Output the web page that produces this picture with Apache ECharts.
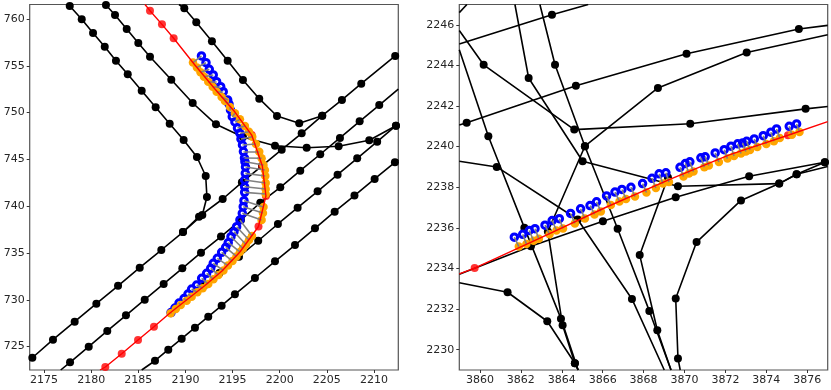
<!DOCTYPE html>
<html>
<head>
<meta charset="utf-8">
<style>
  html, body { margin: 0; padding: 0; background: #fff; }
  #chart { width: 831px; height: 390px; }
</style>
<script src="https://cdn.jsdelivr.net/npm/echarts@6/dist/echarts.min.js"></script>
</head>
<body>
<div id="chart"></div>
<script>
// left panel ticks
const leftXTicks = [2175, 2180, 2185, 2190, 2195, 2200, 2205, 2210];
const leftYTicks = [725, 730, 735, 740, 745, 750, 755, 760];

// left panel black polylines
const leftLineA = [[2177.33,761.55],[2177.73,761.39],[2179.0,759.97],[2180.2,758.5],[2181.44,757.04],[2182.63,755.55],[2183.88,754.09],[2185.36,752.34],[2186.84,750.57],[2188.33,748.82],[2189.81,747.07],[2191.22,745.26],[2192.15,743.23],[2192.28,740.98],[2191.79,739.06],[2189.74,737.24]];
const leftLineB = [[2173.48,723.57],[2173.76,723.81],[2175.95,725.74],[2178.25,727.66],[2180.55,729.58],[2182.85,731.5],[2185.15,733.43],[2187.44,735.32],[2189.74,737.24],[2191.44,738.88],[2193.95,740.77],[2195.99,742.55],[2198.12,744.3],[2200.21,746.04],[2202.33,747.79],[2204.51,749.67],[2206.6,751.35],[2208.65,753.09],[2212.25,756.05],[2212.58,756.3]];
const leftLineC = [[2176.77,722.5],[2177.76,723.32],[2179.74,724.99],[2181.71,726.67],[2183.69,728.34],[2185.68,730.01],[2187.69,731.69],[2189.67,733.36],[2191.65,735.03],[2193.77,736.76],[2195.89,738.53],[2197.94,740.37],[2200.06,742.02],[2202.18,743.79],[2204.3,745.55],[2206.39,747.29],[2208.48,749.07],[2210.56,750.81],[2212.58,752.52]];
const leftLineD = [[2192.07,731.58],[2193.61,732.86],[2195.68,734.6],[2197.72,736.31],[2199.81,738.1],[2201.9,739.84],[2204.02,741.59],[2206.14,743.37],[2208.22,745.12],[2210.34,746.89],[2212.33,748.6],[2212.58,748.78]];
const leftLineE = [[2185.36,722.5],[2186.77,723.49],[2188.18,724.67],[2189.6,725.84],[2191.01,727.02],[2192.42,728.2],[2193.84,729.37],[2195.25,730.59],[2197.37,732.33],[2199.5,734.11],[2201.62,735.85],[2203.74,737.64],[2205.83,739.41],[2207.93,741.14],[2210.07,742.91],[2212.22,744.69],[2212.58,744.94]];
const leftLineF = [[2189.32,761.55],[2189.88,761.14],[2191.15,759.65],[2192.81,757.62],[2194.48,755.55],[2196.1,753.48],[2197.83,751.49],[2199.71,749.64],[2202.07,748.86],[2204.51,749.67]];
const leftLineG = [[2181.57,761.5],[2182.53,760.43],[2183.77,758.93],[2185,757.44],[2186.24,755.97],[2188.5,753.51],[2190.77,751.03],[2193.24,748.75],[2196.1,747.39],[2199.5,746.46],[2202.86,746.25],[2206.25,746.4],[2209.5,747.04],[2212.33,748.6]];

// left panel red path and the red dots that show
const leftRed = [[2180.94,722.5],[2181.5,722.82],[2183.24,724.24],[2184.97,725.71],[2186.66,727.13],[2188.36,728.59],[2192.07,731.53],[2193.88,733.07],[2195.78,735.11],[2197.75,737.83],[2198.54,741.09],[2198.15,744.33],[2197.03,747.6],[2195.25,750.06],[2193.13,752.52],[2191,755.08],[2188.75,757.94],[2187.51,759.43],[2186.24,760.89],[2185.71,761.55]];
const leftRedDots = [[2181.5,722.82],[2183.24,724.24],[2184.97,725.71],[2186.66,727.13],[2197.75,737.83],[2198.54,741.09],[2198.15,744.33],[2197.03,747.6],[2188.75,757.94],[2187.51,759.43],[2186.24,760.89]];

// left panel matched points, same order in both
const leftOrange = [[2190.8,755.35],[2191.22,754.82],[2191.6,754.31],[2191.97,753.84],[2192.42,753.3],[2192.89,752.77],[2193.31,752.23],[2193.84,751.67],[2194.19,751.24],[2194.72,750.6],[2195.25,749.92],[2195.78,749.28],[2196.31,748.57],[2196.74,747.96],[2197.09,747.43],[2197.48,746.64],[2197.83,745.82],[2198.08,745.12],[2198.28,744.4],[2198.43,743.87],[2198.47,743.23],[2198.51,742.48],[2198.51,741.84],[2198.51,741.3],[2198.28,739.91],[2198.22,739.27],[2198.08,738.53],[2197.06,736.82],[2196.74,736.39],[2196.42,735.91],[2196.1,735.48],[2195.78,735.11],[2195.41,734.63],[2194.99,734.14],[2194.51,733.66],[2194.03,733.13],[2193.5,732.65],[2192.97,732.19],[2192.42,731.69],[2191.83,731.23],[2191.26,730.8],[2190.66,730.33],[2190.13,729.9],[2189.5,729.44],[2188.97,729.02],[2188.43,728.56]];
const leftBlue = [[2191.7,756.05],[2192.18,755.33],[2192.53,754.63],[2192.95,754.02],[2193.31,753.3],[2193.74,752.77],[2194.01,752.23],[2194.48,751.35],[2194.62,750.92],[2194.78,750.28],[2194.97,749.56],[2195.25,749.0],[2195.52,748.35],[2195.78,747.79],[2195.89,747.18],[2196.05,746.54],[2196.15,745.84],[2196.26,745.15],[2196.31,744.75],[2196.37,744.19],[2196.35,743.51],[2196.28,742.8],[2196.28,742.08],[2196.28,741.48],[2196.21,740.59],[2196.13,739.95],[2196.03,739.24],[2195.78,738.53],[2195.43,737.81],[2195.15,737.27],[2194.83,736.74],[2194.54,736.1],[2194.27,735.61],[2193.84,735.07],[2193.38,734.43],[2192.95,733.9],[2192.68,733.36],[2192.25,732.83],[2191.72,732.3],[2191.19,731.58],[2190.66,731.15],[2190.27,730.62],[2189.85,730.14],[2189.32,729.66],[2188.89,729.12],[2188.47,728.64]];

// right panel ticks
const rightXTicks = [3860, 3862, 3864, 3866, 3868, 3870, 3872, 3874, 3876];
const rightYTicks = [2230, 2232, 2234, 2236, 2238, 2240, 2242, 2244, 2246];

// right panel black polylines
const rightLine1 = [[3858.99,2245.05],[3863.52,2246.49],[3865.29,2247]];
const rightLine1b = [[3858.99,2246.6],[3859.36,2247]];
const rightLine2 = [[3858.99,2241.06],[3859.35,2241.18],[3864.69,2243],[3870.1,2244.57],[3875.59,2245.79],[3877,2245.97]];
const rightLine3 = [[3877,2245.51],[3873.04,2244.64],[3868.7,2242.89],[3865.13,2240.02],[3863.32,2235.82],[3864.04,2231.2],[3864.64,2229.33],[3864.8,2229]];
const rightLine4 = [[3858.99,2239.28],[3860.82,2239],[3864.78,2236.41],[3867.43,2232.5],[3869.01,2229]];
const rightLine5 = [[3861.71,2247],[3862.38,2243.38],[3865.02,2239.28],[3869.68,2238.05],[3874.63,2238.18],[3875.48,2238.64],[3877,2239.02]];
const rightLine6 = [[3869.79,2229],[3869.68,2229.57],[3869.57,2232.52],[3870.59,2235.3],[3872.76,2237.35],[3874.63,2238.18],[3875.48,2238.64],[3876.86,2239.23],[3877,2239.27]];
const rightLine8 = [[3858.99,2233.71],[3862.49,2235.1],[3866.01,2236.33],[3869.57,2237.51],[3873.16,2238.54],[3876.86,2239.23],[3877,2239.27]];
const rightLine9 = [[3862.93,2247],[3863.67,2244.03],[3865.13,2240.02],[3866.73,2235.96],[3868.28,2231.91],[3869.34,2229]];
const rightLine10 = [[3869.19,2238.48],[3867.81,2234.66],[3868.67,2230.96],[3869.34,2229]];
const rightLine11 = [[3858.99,2245.72],[3860.18,2244.03],[3864.61,2240.84],[3870.28,2241.13],[3875.92,2241.86],[3877,2241.98]];
const rightLine12 = [[3858.99,2244.77],[3860.41,2240.51],[3862.17,2236.01],[3863.96,2231.53],[3864.8,2229]];
const rightLine13 = [[3858.99,2233.3],[3861.35,2232.83],[3863.29,2231.4],[3864.64,2229.33],[3864.8,2229]];

// right panel red path and dots
const rightRed = [[3858.99,2233.73],[3859.74,2234.02],[3862.93,2235.5],[3866.11,2236.99],[3869.25,2238.38],[3872.22,2239.61],[3875.06,2240.56],[3877,2241.23]];
const rightRedDots = [[3859.74,2234.02],[3875.06,2240.56]];

// right panel matched points
const rightOrange = [[3861.9,2235.08],[3862.27,2235.21],[3862.62,2235.36],[3862.88,2235.46],[3863.4,2235.68],[3863.74,2235.87],[3864.06,2235.97],[3864.64,2236.22],[3865.13,2236.46],[3865.6,2236.66],[3865.91,2236.81],[3866.4,2237.13],[3866.82,2237.3],[3867.14,2237.42],[3867.58,2237.54],[3868.14,2237.74],[3868.6,2237.96],[3868.95,2238.18],[3869.24,2238.26],[3869.95,2238.53],[3870.22,2238.68],[3870.44,2238.77],[3870.97,2238.99],[3871.19,2239.07],[3871.68,2239.24],[3872.1,2239.41],[3872.42,2239.54],[3872.76,2239.66],[3873.0,2239.76],[3873.2,2239.83],[3873.56,2239.98],[3874.0,2240.13],[3874.37,2240.27],[3874.66,2240.42],[3875.25,2240.59],[3875.62,2240.72]];
const rightBlue = [[3861.68,2235.54],[3862.09,2235.68],[3862.41,2235.87],[3862.69,2235.96],[3863.18,2236.13],[3863.53,2236.36],[3863.88,2236.45],[3864.43,2236.71],[3864.92,2236.94],[3865.38,2237.1],[3865.7,2237.28],[3866.19,2237.57],[3866.6,2237.76],[3866.94,2237.89],[3867.38,2238.0],[3867.95,2238.18],[3868.41,2238.44],[3868.76,2238.66],[3869.09,2238.71],[3869.78,2238.98],[3870.04,2239.17],[3870.26,2239.25],[3870.8,2239.45],[3871.01,2239.5],[3871.5,2239.69],[3871.94,2239.85],[3872.27,2240.02],[3872.6,2240.14],[3872.84,2240.18],[3873.04,2240.26],[3873.41,2240.38],[3873.85,2240.54],[3874.22,2240.71],[3874.5,2240.87],[3875.12,2241.0],[3875.48,2241.12]];

const leftBlack = [leftLineA, leftLineB, leftLineC, leftLineD, leftLineE, leftLineF, leftLineG];
const rightBlack = [rightLine1, rightLine1b, rightLine2, rightLine3, rightLine4, rightLine5, rightLine6, rightLine8, rightLine9, rightLine10, rightLine11, rightLine12, rightLine13];

function makeAxis(gridIndex, min, max, ticks) {
  return {
    type: 'value',
    gridIndex: gridIndex,
    min: min,
    max: max,
    splitLine: { show: false },
    axisLine: { show: false },
    axisTick: { show: true, length: 3, customValues: ticks, lineStyle: { color: '#333', width: 1 } },
    axisLabel: {
      show: true,
      customValues: ticks,
      margin: 5,
      color: '#262626',
      fontFamily: 'DejaVu Sans',
      fontSize: 11,
      formatter: function (v) { return String(v); }
    }
  };
}

// one panel: black, blue, orange, gray links, then red on top
function panelSeries(idx, black, red, redDots, orange, blue, xr, yr) {
  let out = [];
  // line ends cut by the frame carry no dot
  const dotSize = function (v) {
    const onEdge = v[0] <= xr[0] || v[0] >= xr[1] || v[1] <= yr[0] || v[1] >= yr[1];
    return onEdge ? 0 : 8;
  };
  black.forEach(function (line) {
    out.push({
      type: 'line', xAxisIndex: idx, yAxisIndex: idx, data: line,
      symbol: 'circle', symbolSize: dotSize, showSymbol: true, showAllSymbol: true,
      lineStyle: { color: '#000', width: 1.6 }, itemStyle: { color: '#000' },
      z: 2, silent: true
    });
  });
  out.push({
    type: 'scatter', xAxisIndex: idx, yAxisIndex: idx, data: redDots,
    symbol: 'circle', symbolSize: 8, itemStyle: { color: '#ff0000' }, z: 3, silent: true
  });
  out.push({
    type: 'scatter', xAxisIndex: idx, yAxisIndex: idx, data: blue,
    symbol: 'circle', symbolSize: 6.5,
    itemStyle: { color: 'rgba(255,255,255,0)', borderColor: '#0000ff', borderWidth: 3, opacity: 1 },
    z: 4, silent: true
  });
  out.push({
    type: 'scatter', xAxisIndex: idx, yAxisIndex: idx, data: orange,
    symbol: 'circle', symbolSize: 8.5, itemStyle: { color: '#ffa500', opacity: 1 }, z: 5, silent: true
  });
  out.push({
    type: 'lines', coordinateSystem: 'cartesian2d', xAxisIndex: idx, yAxisIndex: idx,
    data: orange.map(function (p, i) { return { coords: [p, blue[i]] }; }),
    lineStyle: { color: '#808080', width: 1.6, opacity: 1, curveness: 0 },
    symbol: ['none', 'none'], z: 6, silent: true
  });
  out.push({
    type: 'line', xAxisIndex: idx, yAxisIndex: idx, data: red,
    symbol: 'none', lineStyle: { color: '#ff0000', width: 1.4 }, z: 7, silent: true
  });
  return out;
}

const chart = echarts.init(document.getElementById('chart'), null, { renderer: 'canvas' });
chart.setOption({
  animation: false,
  backgroundColor: '#fff',
  grid: [
    { left: 29.7, top: 4.5, width: 368.6, height: 365.5, show: true, borderColor: '#555', borderWidth: 1.2, backgroundColor: '#fff' },
    { left: 459.3, top: 4.5, width: 368.4, height: 365.5, show: true, borderColor: '#555', borderWidth: 1.2, backgroundColor: '#fff' }
  ],
  xAxis: [
    makeAxis(0, 2173.48, 2212.58, leftXTicks),
    makeAxis(1, 3858.99, 3877, rightXTicks)
  ],
  yAxis: [
    makeAxis(0, 722.5, 761.55, leftYTicks),
    makeAxis(1, 2229, 2247, rightYTicks)
  ],
  series: panelSeries(0, leftBlack, leftRed, leftRedDots, leftOrange, leftBlue, [2173.48, 2212.58], [722.5, 761.55])
    .concat(panelSeries(1, rightBlack, rightRed, rightRedDots, rightOrange, rightBlue, [3858.99, 3877], [2229, 2247]))
});
</script>
</body>
</html>
